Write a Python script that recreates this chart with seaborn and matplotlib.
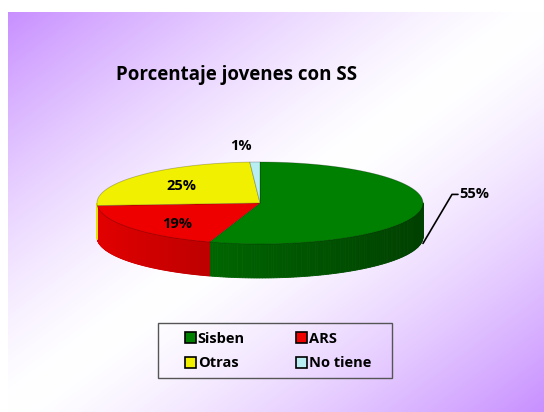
import numpy as np
import matplotlib
matplotlib.use("Agg")
import matplotlib.pyplot as plt
from matplotlib.patches import Patch, Rectangle
import matplotlib.colors as mcolors
import seaborn as sns

# datos
categorias = ["Sisben", "ARS", "Otras", "No tiene"]
porcentajes = [55, 19, 25, 1]
colores = ["#008000", "#EE0000", "#F0F000", "#B8EEF2"]
titulo = "Porcentaje jovenes con SS"

sns.set_theme(style="white")
plt.rcParams['font.family'] = ['Open Sans', 'DejaVu Sans']
plt.rcParams['text.color'] = 'black'

W, H = 544, 412
fig = plt.figure(figsize=(W / 100, H / 100), dpi=100)
ax = fig.add_axes([0, 0, 1, 1])
ax.set_xlim(0, W)
ax.set_ylim(H, 0)
ax.axis('off')

# fondo degradado (morado en esquinas, blanco en la diagonal)
gx, gy = np.meshgrid(np.linspace(0, 1, 300), np.linspace(0, 1, 230))
t = np.abs(gx + gy - 1) ** 1.4
morado = np.array(mcolors.to_rgb("#C890FF"))
img = 1 - t[..., None] * (1 - morado)[None, None, :]
ax.imshow(img, extent=[8, W, H, 12], aspect='auto', zorder=0)

# pastel 3D
cx, cy, rx, ry, prof = 260, 203, 163, 41, 34
total = sum(porcentajes)
ang = 90.0
tramos = []
for cat, val, col in zip(categorias, porcentajes, colores):
    a0 = ang - 360 * val / total
    tramos.append((a0, ang, col, val))
    ang = a0

def punto(a, dy=0):
    r = np.radians(a)
    return cx + rx * np.cos(r), cy - ry * np.sin(r) + dy

# paredes laterales (parte frontal)
for a0, a1, col, val in tramos:
    base = np.array(mcolors.to_rgb(col))
    angs = np.linspace(a0, a1, 200)
    for i in range(len(angs) - 1):
        s0, s1 = angs[i], angs[i + 1]
        m = (s0 + s1) / 2
        if np.sin(np.radians(m)) > 0:
            continue
        c = np.cos(np.radians(m))
        sombra = 0.95 - 0.45 * (c + 1) / 2
        x0, y0 = punto(s0)
        x1, y1 = punto(s1)
        ax.fill([x0, x1, x1, x0], [y0, y1, y1 + prof, y0 + prof],
                color=base * sombra, lw=0.6, ec=base * sombra, zorder=2)

# tapa superior
for a0, a1, col, val in tramos:
    angs = np.linspace(a0, a1, 100)
    xs = [cx] + [punto(a)[0] for a in angs]
    ys = [cy] + [punto(a)[1] for a in angs]
    ax.fill(xs, ys, color=col, ec=(0, 0, 0, 0.25), lw=0.6, zorder=3)

# etiquetas
fs = 10.5
for a0, a1, col, val in tramos:
    m = (a0 + a1) / 2
    txt = f"{val}%"
    if val >= 50:
        x, y = punto(m, prof)
        ax.plot([x + 2, x + 31, x + 37], [y, y - 49, y - 49], color='black', lw=1.2, zorder=4)
        ax.text(x + 38, y - 49, txt, fontsize=fs, fontweight='bold', ha='left', va='center', zorder=5)
    elif val < 5:
        r = np.radians(m)
        ax.text(cx + 1.3 * rx * np.cos(r) - 12, cy - 1.4 * ry * np.sin(r), txt,
                fontsize=fs, fontweight='bold', ha='center', va='center', zorder=5)
    else:
        r = np.radians(m)
        ax.text(cx + 0.64 * rx * np.cos(r), cy - 0.72 * ry * np.sin(r) + 3, txt,
                fontsize=fs, fontweight='bold', ha='center', va='center', zorder=5)

ax.text(237, 75, titulo, fontsize=13.5, fontweight='bold', ha='center', va='center', zorder=5)

handles = [Patch(facecolor=c, edgecolor='black', lw=1.2, label=n) for n, c in zip(categorias, colores)]
orden = [0, 2, 1, 3]
leg = ax.legend([handles[i] for i in orden], [categorias[i] for i in orden],
                ncol=2, loc='center', bbox_to_anchor=(278 / W, 1 - 351 / H),
                prop={'weight': 'bold', 'size': 10.5}, frameon=False,
                handlelength=0.75, handleheight=0.75, handletextpad=0.15,
                columnspacing=3.5, borderpad=0.3, labelspacing=0.75)
ax.add_patch(Rectangle((158, 323), 234, 55, fill=False, ec='#555555', lw=1, zorder=4))

fig.savefig("out.png", dpi=100)
